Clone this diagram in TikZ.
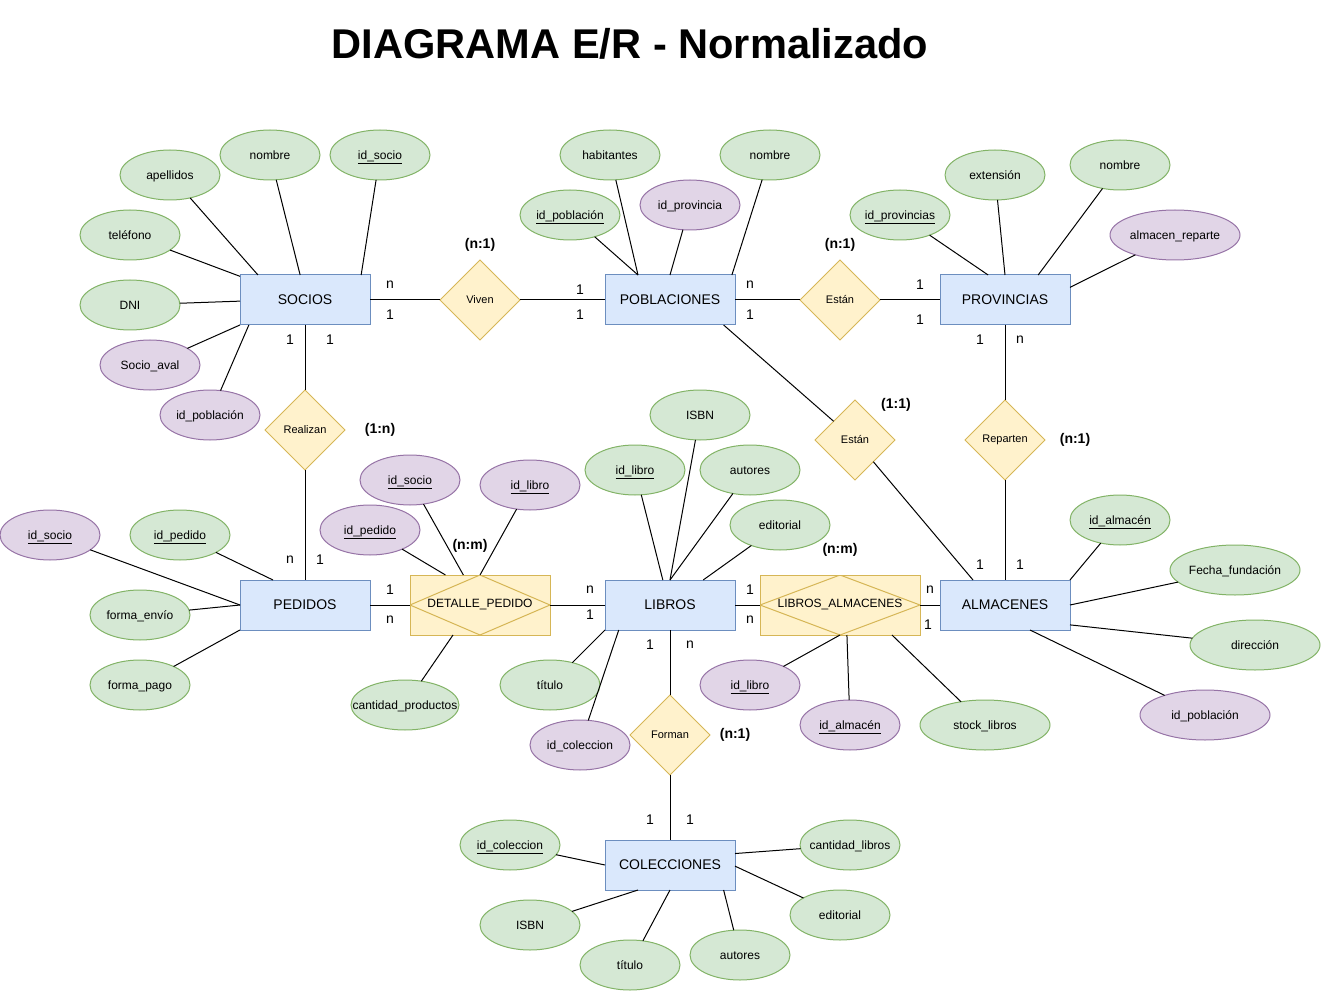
\documentclass[tikz,border=0pt]{standalone}
\usepackage{fontspec}
\setmainfont{Liberation Sans}
\definecolor{EntFill}{HTML}{DAE8FC}
\definecolor{EntLine}{HTML}{6C8EBF}
\definecolor{AttFill}{HTML}{D5E8D4}
\definecolor{AttLine}{HTML}{82B366}
\definecolor{KeyFill}{HTML}{E1D5E7}
\definecolor{KeyLine}{HTML}{9673A6}
\definecolor{RelFill}{HTML}{FFF2CC}
\definecolor{RelLine}{HTML}{D6B656}
\usetikzlibrary{shapes.geometric}

\begin{document}
\begin{tikzpicture}[
  x=0.75pt, y=-0.75pt,
  line width=0.75pt,
  every node/.style={inner sep=0pt, outer sep=0pt},
  entity/.style={
    rectangle, draw=EntLine, fill=EntFill,
    minimum width=97.5pt, minimum height=37.5pt,
    font=\fontsize{10.5}{12}\selectfont
  },
  attr/.style={
    ellipse, draw=AttLine, fill=AttFill, inner xsep=-12pt,
    minimum width=75pt, minimum height=37.5pt,
    text height=6.5pt, text depth=0pt,
    font=\fontsize{9}{11}\selectfont
  },
  fkey/.style={attr, draw=KeyLine, fill=KeyFill},
  wide/.style={minimum width=97.5pt},
  rel/.style={
    diamond, draw=RelLine, fill=RelFill,
    minimum width=60pt, minimum height=60pt,
    font=\fontsize{8.25}{10}\selectfont
  },
  assoc/.style={
    rectangle, draw=RelLine, fill=RelFill,
    minimum height=45pt, font=\fontsize{9}{11}\selectfont,
    path picture={\draw[RelLine] (path picture bounding box.west)
      -- (path picture bounding box.north) -- (path picture bounding box.east)
      -- (path picture bounding box.south) -- cycle;}
  },
  card/.style={font=\fontsize{10.5}{12}\selectfont},
  ratio/.style={font=\fontsize{10.5}{12}\selectfont\bfseries},
  link/.style={draw=black},
]
\useasboundingbox (0,0) rectangle (1321,991);

\node[font=\fontsize{31.2}{36}\selectfont\bfseries] (title) at (630,44)
                      {DIAGRAMA E/R - Normalizado};

\node[entity] (socios)  at (305,300)  {SOCIOS};
\node[entity] (pobl)    at (670,300)  {POBLACIONES};
\node[entity] (prov)    at (1005,300) {PROVINCIAS};
\node[entity] (pedidos) at (305,605)  {PEDIDOS};
\node[entity] (libros)  at (670,605)  {LIBROS};
\node[entity] (alm)     at (1005,605) {ALMACENES};
\node[entity] (colec)   at (670,865)  {COLECCIONES};

\node[assoc, minimum width=105pt] (detalle) at (480,605) {DETALLE\_PEDIDO};
\node[assoc, minimum width=120pt] (libalm)  at (840,605) {LIBROS\_ALMACENES};

\node[rel] (viven)    at (480,300)  {Viven};
\node[rel] (estan)    at (840,300)  {Están};
\node[rel] (realizan) at (305,430)  {Realizan};
\node[rel] (estan2)   at (855,440)  {Están};
\node[rel] (reparten) at (1005,440) {Reparten};
\node[rel] (forman)   at (670,735)  {Forman};

\node[ratio] (r_viven)    at (480,245)  {(n:1)};
\node[ratio] (r_estan)    at (840,245)  {(n:1)};
\node[ratio] (r_realizan) at (380,430)  {(1:n)};
\node[ratio] (r_estan2)   at (896,405)  {(1:1)};
\node[ratio] (r_reparten) at (1075,440) {(n:1)};
\node[ratio] (r_detalle)  at (470,546)  {(n:m)};
\node[ratio] (r_libalm)   at (840,550)  {(n:m)};
\node[ratio] (r_forman)   at (735,735)  {(n:1)};

\node[attr] (s_ape)  at (170,175) {apellidos};
\node[attr] (s_nom)  at (270,155) {nombre};
\node[attr] (s_id)   at (380,155) {\underline{id\_socio}};
\node[attr] (s_tel)  at (130,235) {teléfono};
\node[attr] (s_dni)  at (130,305) {DNI};
\node[fkey] (s_aval) at (150,365) {Socio\_aval};
\node[fkey] (s_pob)  at (210,415) {id\_población};

\node[attr] (p_hab)  at (610,155) {habitantes};
\node[attr] (p_id)   at (570,215) {\underline{id\_población}};
\node[fkey] (p_prov) at (690,205) {id\_provincia};
\node[attr] (p_nom)  at (770,155) {nombre};

\node[attr] (v_id)   at (900,215)  {\underline{id\_provincias}};
\node[attr] (v_ext)  at (995,175)  {extensión};
\node[attr] (v_nom)  at (1120,165) {nombre};
\node[fkey, wide] (v_alm) at (1175,235) {almacen\_reparte};

\node[fkey] (d_soc)  at (50,535)  {\underline{id\_socio}};
\node[attr] (d_id)   at (180,535) {\underline{id\_pedido}};
\node[attr] (d_env)  at (140,615) {forma\_envío};
\node[attr] (d_pag)  at (140,685) {forma\_pago};

\node[fkey] (t_soc)  at (410,480) {\underline{id\_socio}};
\node[fkey] (t_ped)  at (370,530) {\underline{id\_pedido}};
\node[fkey] (t_lib)  at (530,485) {\underline{id\_libro}};
\node[attr, minimum width=81pt] (t_cant) at (405,705) {cantidad\_productos};

\node[attr] (l_isbn) at (700,415) {ISBN};
\node[attr] (l_id)   at (635,470) {\underline{id\_libro}};
\node[attr] (l_aut)  at (750,470) {autores};
\node[attr] (l_edit) at (780,525) {editorial};
\node[attr] (l_tit)  at (550,685) {título};
\node[fkey] (l_col)  at (580,745) {id\_coleccion};

\node[fkey] (a_lib)  at (750,685) {\underline{id\_libro}};
\node[fkey] (a_alm)  at (850,725) {\underline{id\_almacén}};
\node[attr, wide] (a_stk) at (985,725) {stock\_libros};

\node[attr] (m_id)   at (1120,520) {\underline{id\_almacén}};
\node[attr, wide] (m_fecha) at (1235,570) {Fecha\_fundación};
\node[attr, wide] (m_dir)   at (1255,645) {dirección};
\node[fkey, wide] (m_pob)   at (1205,715) {id\_población};

\node[attr] (c_id)   at (510,845) {\underline{id\_coleccion}};
\node[attr] (c_isbn) at (530,925) {ISBN};
\node[attr] (c_tit)  at (630,965) {título};
\node[attr] (c_aut)  at (740,955) {autores};
\node[attr] (c_edit) at (840,915) {editorial};
\node[attr] (c_cant) at (850,845) {cantidad\_libros};

\node[card] (k1)  at (390,285)  {n};
\node[card] (k2)  at (390,315)  {1};
\node[card] (k3)  at (580,290)  {1};
\node[card] (k4)  at (580,315)  {1};
\node[card] (k5)  at (750,285)  {n};
\node[card] (k6)  at (750,315)  {1};
\node[card] (k7)  at (920,285)  {1};
\node[card] (k8)  at (920,320)  {1};
\node[card] (k9)  at (980,340)  {1};
\node[card] (k10) at (1020,340) {n};
\node[card] (k11) at (980,565)  {1};
\node[card] (k12) at (1020,565) {1};
\node[card] (k13) at (290,340)  {1};
\node[card] (k14) at (330,340)  {1};
\node[card] (k15) at (290,560)  {n};
\node[card] (k16) at (320,560)  {1};
\node[card] (k17) at (390,590)  {1};
\node[card] (k18) at (390,620)  {n};
\node[card] (k19) at (590,590)  {n};
\node[card] (k20) at (590,615)  {1};
\node[card] (k21) at (750,590)  {1};
\node[card] (k22) at (750,620)  {n};
\node[card] (k23) at (930,590)  {n};
\node[card] (k24) at (928,625)  {1};
\node[card] (k25) at (650,645)  {1};
\node[card] (k26) at (690,645)  {n};
\node[card] (k27) at (650,820)  {1};
\node[card] (k28) at (690,820)  {1};

\draw[link] (socios)  -- (viven);
\draw[link] (viven)   -- (pobl);
\draw[link] (pobl)    -- (estan);
\draw[link] (estan)   -- (prov);
\draw[link] (pobl.335.6) -- (estan2);
\draw[link] (estan2)  -- (alm.142.9);
\draw[link] (prov)    -- (reparten);
\draw[link] (reparten) -- (alm);
\draw[link] (socios)  -- (realizan);
\draw[link] (realizan) -- (pedidos);
\draw[link] (pedidos) -- (detalle);
\draw[link] (detalle) -- (libros);
\draw[link] (libros)  -- (libalm);
\draw[link] (libalm)  -- (alm);
\draw[link] (libros)  -- (forman);
\draw[link] (forman)  -- (colec);

\draw[link] (s_ape)  -- (socios.152);
\draw[link] (s_nom)  -- (socios.101);
\draw[link] (s_id)   -- (socios.24.4);
\draw[link] (s_tel)  -- (socios.160);
\draw[link] (s_dni)  -- (socios.181);
\draw[link] (s_aval) -- (socios.201);
\draw[link] (s_pob)  -- (socios.204.4);

\draw[link] (p_hab)  -- (pobl.142.9);
\draw[link] (p_id)   -- (pobl.142.9);
\draw[link] (p_prov) -- (pobl.90);
\draw[link] (p_nom)  -- (pobl.22.6);

\draw[link] (v_id)   -- (prov.124.2);
\draw[link] (v_ext)  -- (prov.90);
\draw[link] (v_nom)  -- (prov.37.1);
\draw[link] (v_alm)  -- (prov.11.3);

\draw[link] (d_soc)  -- (pedidos.180);
\draw[link] (d_id)   -- (pedidos.142);
\draw[link] (d_env)  -- (pedidos.180);
\draw[link] (d_pag)  -- (pedidos.201);

\draw[link] (t_soc)  -- (detalle.119.5);
\draw[link] (t_ped)  -- (detalle.139);
\draw[link] (t_lib)  -- (detalle.90);
\draw[link] (t_cant) -- (detalle.228);

\draw[link] (l_isbn) -- (libros.90);
\draw[link] (l_id)   -- (libros.106);
\draw[link] (l_aut)  -- (libros.90);
\draw[link] (l_edit) -- (libros.37.1);
\draw[link] (l_tit)  -- (libros.201);
\draw[link] (l_col)  -- (libros.206.6);

\draw[link] (a_lib)  -- (libalm.270);
\draw[link] (a_alm)  -- (libalm.283);
\draw[link] (a_stk)  -- (libalm.330.5);

\draw[link] (m_id)    -- (alm.north east);
\draw[link] (m_fecha) -- (alm.east);
\draw[link] (m_dir)   -- (alm.343.7);
\draw[link] (m_pob)   -- (alm.315);

\draw[link] (c_id)   -- (colec.180);
\draw[link] (c_isbn) -- (colec.218);
\draw[link] (c_tit)  -- (colec.270);
\draw[link] (c_aut)  -- (colec.335.6);
\draw[link] (c_edit) -- (colec.359);
\draw[link] (c_cant) -- (colec.10.5);

\end{tikzpicture}
\end{document}
